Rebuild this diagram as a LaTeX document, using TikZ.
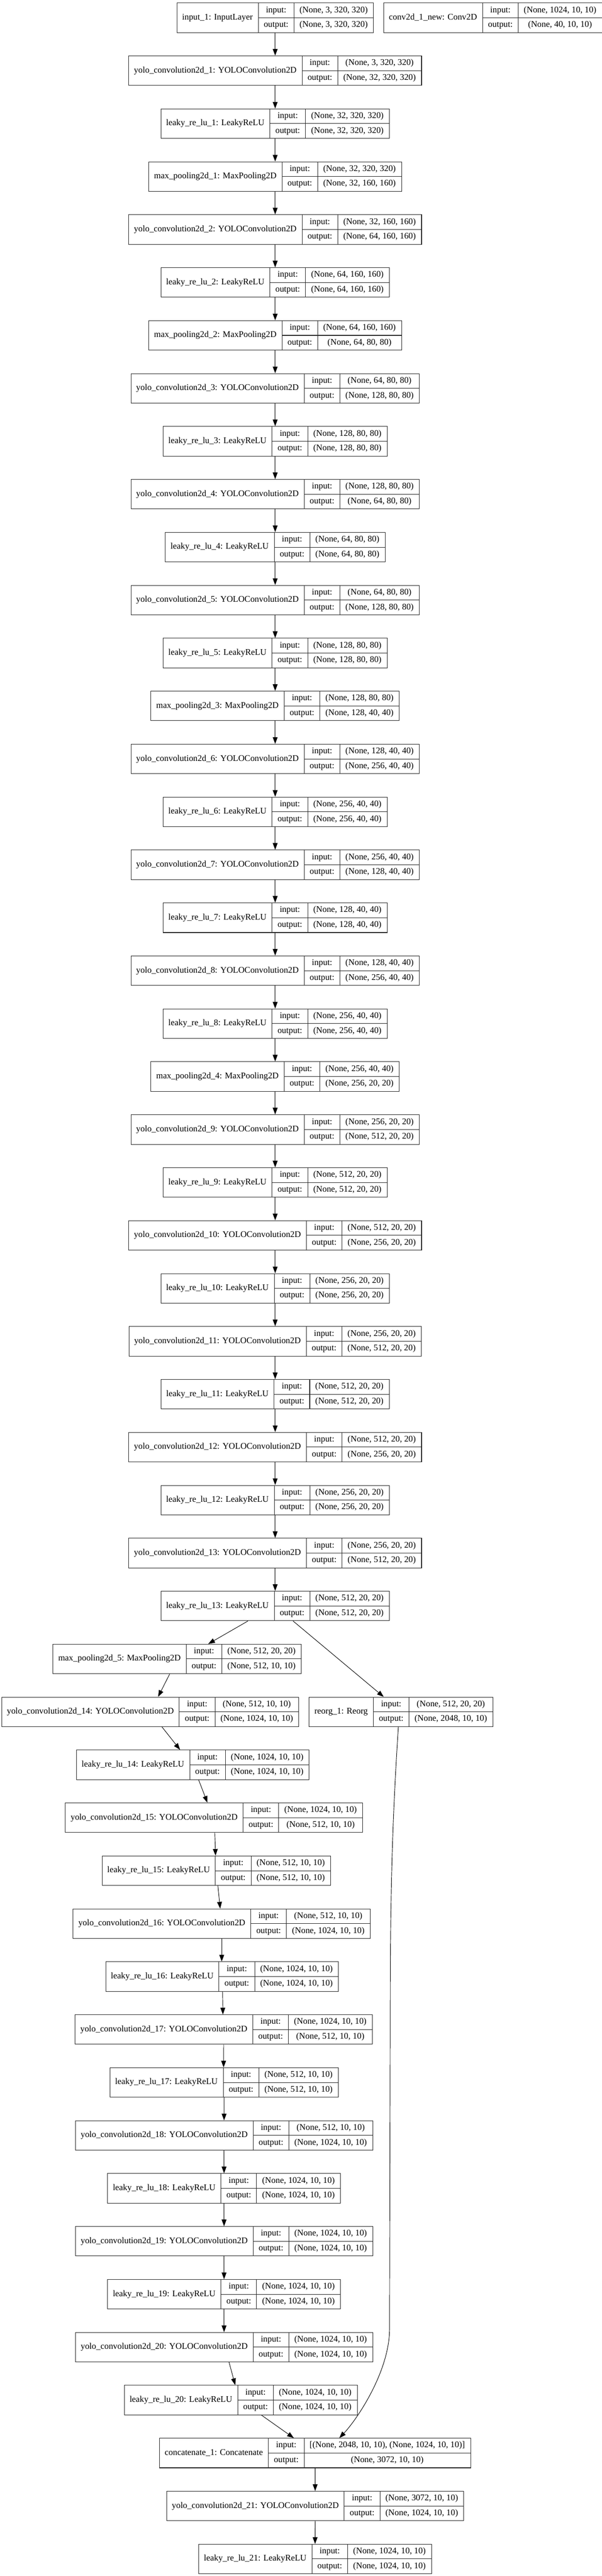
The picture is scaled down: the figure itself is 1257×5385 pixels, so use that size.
\documentclass[tikz,border=0pt]{standalone}
\usepackage{fontspec}
\setmainfont{Liberation Serif}
\usetikzlibrary{arrows.meta}
\newlength\lwa \newlength\lwb \newlength\lwc \newlength\lwt
\newcommand\lfont{\fontsize{18.2pt}{22pt}\selectfont}
\def\padw{23pt}
\newcommand\lay[6]{%
  \node[overlay, inner sep=0pt, font=\lfont] (#1-m) at (0,0)
    {\settowidth\lwa{#4}\global\lwa=\lwa
     \settowidth\lwb{output:}\global\lwb=\lwb
     \settowidth\lwc{#5}\settowidth\lwt{#6}\ifdim\lwt>\lwc \lwc=\lwt\fi
     \global\lwc=\lwc};
  \global\advance\lwa by \padw
  \global\advance\lwb by \padw
  \global\advance\lwc by \padw
  \pgfmathsetmacro\ltop{5.7+110.67*#3}%
  \node[box, minimum width=\lwa+\lwb+\lwc, anchor=north] (#1) at (#2,\ltop) {};
  \draw[cell] ([xshift=\lwa]#1.north west) -- ([xshift=\lwa]#1.south west);
  \draw[cell] ([xshift=\lwa+\lwb]#1.north west) -- ([xshift=\lwa+\lwb]#1.south west);
  \draw[cell] ([xshift=\lwa]#1.west) -- (#1.east);
  \node[txt] (#1-n) at ([xshift=0.5*\lwa]#1.west) {#4};
  \node[txt] (#1-ik) at ([xshift=\lwa+0.5*\lwb, yshift=15.42pt]#1.west) {input:};
  \node[txt] (#1-ok) at ([xshift=\lwa+0.5*\lwb, yshift=-15.42pt]#1.west) {output:};
  \node[txt] (#1-iv) at ([xshift=\lwa+\lwb+0.5*\lwc, yshift=15.42pt]#1.west) {#5};
  \node[txt] (#1-ov) at ([xshift=\lwa+\lwb+0.5*\lwc, yshift=-15.42pt]#1.west) {#6};
}
\begin{document}
\begin{tikzpicture}[x=1pt,y=-1pt,
  box/.style={draw=black!85, line width=1.1pt, inner sep=0pt, minimum height=61.7pt},
  cell/.style={draw=black!85, line width=1.1pt},
  txt/.style={inner sep=0pt, font=\lfont, text height=12.5pt, text depth=4pt},
  edge/.style={line width=1pt, -{Triangle[length=14pt,width=10pt]}}]
\useasboundingbox (0,0) rectangle (1257,5385);
\def\mc{575}
\lay{L0}{\mc}{0}{input\_1: InputLayer}{(None, 3, 320, 320)}{(None, 3, 320, 320)}
\lay{R0}{1030}{0}{conv2d\_1\_new: Conv2D}{(None, 1024, 10, 10)}{(None, 40, 10, 10)}
\lay{L1}{\mc}{1}{yolo\_convolution2d\_1: YOLOConvolution2D}{(None, 3, 320, 320)}{(None, 32, 320, 320)}
\lay{L2}{\mc}{2}{leaky\_re\_lu\_1: LeakyReLU}{(None, 32, 320, 320)}{(None, 32, 320, 320)}
\lay{L3}{\mc}{3}{max\_pooling2d\_1: MaxPooling2D}{(None, 32, 320, 320)}{(None, 32, 160, 160)}
\lay{L4}{\mc}{4}{yolo\_convolution2d\_2: YOLOConvolution2D}{(None, 32, 160, 160)}{(None, 64, 160, 160)}
\lay{L5}{\mc}{5}{leaky\_re\_lu\_2: LeakyReLU}{(None, 64, 160, 160)}{(None, 64, 160, 160)}
\lay{L6}{\mc}{6}{max\_pooling2d\_2: MaxPooling2D}{(None, 64, 160, 160)}{(None, 64, 80, 80)}
\lay{L7}{\mc}{7}{yolo\_convolution2d\_3: YOLOConvolution2D}{(None, 64, 80, 80)}{(None, 128, 80, 80)}
\lay{L8}{\mc}{8}{leaky\_re\_lu\_3: LeakyReLU}{(None, 128, 80, 80)}{(None, 128, 80, 80)}
\lay{L9}{\mc}{9}{yolo\_convolution2d\_4: YOLOConvolution2D}{(None, 128, 80, 80)}{(None, 64, 80, 80)}
\lay{L10}{\mc}{10}{leaky\_re\_lu\_4: LeakyReLU}{(None, 64, 80, 80)}{(None, 64, 80, 80)}
\lay{L11}{\mc}{11}{yolo\_convolution2d\_5: YOLOConvolution2D}{(None, 64, 80, 80)}{(None, 128, 80, 80)}
\lay{L12}{\mc}{12}{leaky\_re\_lu\_5: LeakyReLU}{(None, 128, 80, 80)}{(None, 128, 80, 80)}
\lay{L13}{\mc}{13}{max\_pooling2d\_3: MaxPooling2D}{(None, 128, 80, 80)}{(None, 128, 40, 40)}
\lay{L14}{\mc}{14}{yolo\_convolution2d\_6: YOLOConvolution2D}{(None, 128, 40, 40)}{(None, 256, 40, 40)}
\lay{L15}{\mc}{15}{leaky\_re\_lu\_6: LeakyReLU}{(None, 256, 40, 40)}{(None, 256, 40, 40)}
\lay{L16}{\mc}{16}{yolo\_convolution2d\_7: YOLOConvolution2D}{(None, 256, 40, 40)}{(None, 128, 40, 40)}
\lay{L17}{\mc}{17}{leaky\_re\_lu\_7: LeakyReLU}{(None, 128, 40, 40)}{(None, 128, 40, 40)}
\lay{L18}{\mc}{18}{yolo\_convolution2d\_8: YOLOConvolution2D}{(None, 128, 40, 40)}{(None, 256, 40, 40)}
\lay{L19}{\mc}{19}{leaky\_re\_lu\_8: LeakyReLU}{(None, 256, 40, 40)}{(None, 256, 40, 40)}
\lay{L20}{\mc}{20}{max\_pooling2d\_4: MaxPooling2D}{(None, 256, 40, 40)}{(None, 256, 20, 20)}
\lay{L21}{\mc}{21}{yolo\_convolution2d\_9: YOLOConvolution2D}{(None, 256, 20, 20)}{(None, 512, 20, 20)}
\lay{L22}{\mc}{22}{leaky\_re\_lu\_9: LeakyReLU}{(None, 512, 20, 20)}{(None, 512, 20, 20)}
\lay{L23}{\mc}{23}{yolo\_convolution2d\_10: YOLOConvolution2D}{(None, 512, 20, 20)}{(None, 256, 20, 20)}
\lay{L24}{\mc}{24}{leaky\_re\_lu\_10: LeakyReLU}{(None, 256, 20, 20)}{(None, 256, 20, 20)}
\lay{L25}{\mc}{25}{yolo\_convolution2d\_11: YOLOConvolution2D}{(None, 256, 20, 20)}{(None, 512, 20, 20)}
\lay{L26}{\mc}{26}{leaky\_re\_lu\_11: LeakyReLU}{(None, 512, 20, 20)}{(None, 512, 20, 20)}
\lay{L27}{\mc}{27}{yolo\_convolution2d\_12: YOLOConvolution2D}{(None, 512, 20, 20)}{(None, 256, 20, 20)}
\lay{L28}{\mc}{28}{leaky\_re\_lu\_12: LeakyReLU}{(None, 256, 20, 20)}{(None, 256, 20, 20)}
\lay{L29}{\mc}{29}{yolo\_convolution2d\_13: YOLOConvolution2D}{(None, 256, 20, 20)}{(None, 512, 20, 20)}
\lay{L30}{\mc}{30}{leaky\_re\_lu\_13: LeakyReLU}{(None, 512, 20, 20)}{(None, 512, 20, 20)}
\lay{L31}{370.3}{31}{max\_pooling2d\_5: MaxPooling2D}{(None, 512, 20, 20)}{(None, 512, 10, 10)}
\lay{L32}{313.9}{32}{yolo\_convolution2d\_14: YOLOConvolution2D}{(None, 512, 10, 10)}{(None, 1024, 10, 10)}
\lay{R32}{838}{32}{reorg\_1: Reorg}{(None, 512, 20, 20)}{(None, 2048, 10, 10)}
\lay{L33}{402.9}{33}{leaky\_re\_lu\_14: LeakyReLU}{(None, 1024, 10, 10)}{(None, 1024, 10, 10)}
\lay{L34}{447.2}{34}{yolo\_convolution2d\_15: YOLOConvolution2D}{(None, 1024, 10, 10)}{(None, 512, 10, 10)}
\lay{L35}{452}{35}{leaky\_re\_lu\_15: LeakyReLU}{(None, 512, 10, 10)}{(None, 512, 10, 10)}
\lay{L36}{463.3}{36}{yolo\_convolution2d\_16: YOLOConvolution2D}{(None, 512, 10, 10)}{(None, 1024, 10, 10)}
\lay{L37}{464.1}{37}{leaky\_re\_lu\_16: LeakyReLU}{(None, 1024, 10, 10)}{(None, 1024, 10, 10)}
\lay{L38}{467.4}{38}{yolo\_convolution2d\_17: YOLOConvolution2D}{(None, 1024, 10, 10)}{(None, 512, 10, 10)}
\lay{L39}{468.4}{39}{leaky\_re\_lu\_17: LeakyReLU}{(None, 512, 10, 10)}{(None, 512, 10, 10)}
\lay{L40}{468.2}{40}{yolo\_convolution2d\_18: YOLOConvolution2D}{(None, 512, 10, 10)}{(None, 1024, 10, 10)}
\lay{L41}{468.2}{41}{leaky\_re\_lu\_18: LeakyReLU}{(None, 1024, 10, 10)}{(None, 1024, 10, 10)}
\lay{L42}{468.2}{42}{yolo\_convolution2d\_19: YOLOConvolution2D}{(None, 1024, 10, 10)}{(None, 1024, 10, 10)}
\lay{L43}{468.2}{43}{leaky\_re\_lu\_19: LeakyReLU}{(None, 1024, 10, 10)}{(None, 1024, 10, 10)}
\lay{L44}{468.2}{44}{yolo\_convolution2d\_20: YOLOConvolution2D}{(None, 1024, 10, 10)}{(None, 1024, 10, 10)}
\lay{L45}{503.2}{45}{leaky\_re\_lu\_20: LeakyReLU}{(None, 1024, 10, 10)}{(None, 1024, 10, 10)}
\lay{L46}{658.4}{46}{concatenate\_1: Concatenate}{[(None, 2048, 10, 10), (None, 1024, 10, 10)]}{(None, 3072, 10, 10)}
\lay{L47}{658.6}{47}{yolo\_convolution2d\_21: YOLOConvolution2D}{(None, 3072, 10, 10)}{(None, 1024, 10, 10)}
\lay{L48}{658.4}{48}{leaky\_re\_lu\_21: LeakyReLU}{(None, 1024, 10, 10)}{(None, 1024, 10, 10)}
% main column edges
\foreach \a/\b in {0/1,1/2,2/3,3/4,4/5,5/6,6/7,7/8,8/9,9/10,10/11,11/12,12/13,13/14,14/15,15/16,16/17,17/18,18/19,19/20,20/21,21/22,22/23,23/24,24/25,25/26,26/27,27/28,28/29,29/30,39/40,40/41,41/42,42/43,43/44,46/47,47/48}
  \draw[edge] (L\a.south) -- (L\b.north);
% branch edges
\foreach \a/\b/\sa/\sb in {30/31/-56.9/64.8,31/32/-15.7/16.5,32/33/24.5/-26.6,33/34/12.1/-13.7,34/35/1.6/-1.6,35/36/3.3/-3.2,36/37/0/-0.8,37/38/0.9/-1.6,38/39/0/-1.2,44/45/10.4/-11.7,45/46/43.1/-44.4}
  \draw[edge] ([xshift=\sa pt]L\a.south) -- ([xshift=\sb pt]L\b.north);
\draw[edge] ([xshift=37.4pt]L30.south) -- ([xshift=-36.2pt]R32.north);
\draw[edge] ([xshift=-5.6pt]R32.south) .. controls (820,3800) and (815.5,3950) .. (815.5,4200) -- (814,4870) .. controls (813,4960) and (744,5060) .. ([xshift=50.6pt]L46.north);
\end{tikzpicture}
\end{document}
